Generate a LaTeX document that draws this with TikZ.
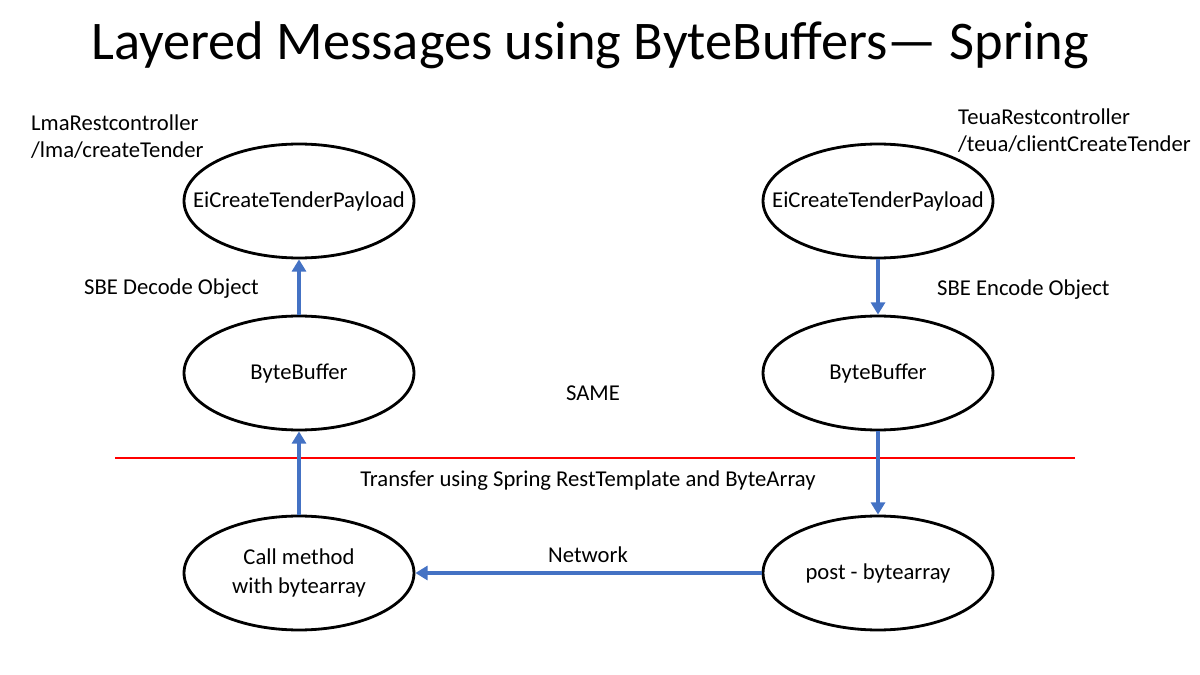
\documentclass[tikz,border=0pt]{standalone}
\usepackage{fontspec}
\setmainfont{Carlito}
\usepackage{xcolor}
\usetikzlibrary{shapes.geometric,arrows.meta}
\definecolor{flowblue}{HTML}{4472C4}

\begin{document}
\begin{tikzpicture}[x=0.02cm,y=-0.02cm,
    blob/.style={draw, ellipse, line width=1.6pt, minimum width=4.6cm, minimum height=2.28cm, inner xsep=-1cm, inner ysep=0pt, align=center, font=\fontsize{12.9}{16.5}\selectfont},
    flow/.style={draw=flowblue, line width=2pt, -{Triangle[length=7pt,width=8pt]}},
    lbl/.style={font=\fontsize{12.9}{15.3}\selectfont, align=left}]
    \useasboundingbox (0,0) rectangle (1200,675);

    % title
    \node (title) at (590,45) {\fontsize{31}{36}\selectfont Layered Messages using ByteBuffers— Spring};

    % left side: receiver
    \node[blob] (lmaPayload) at (299,201) {EiCreateTenderPayload};
    \node[blob] (lmaBuffer) at (299,373) {ByteBuffer};
    \node[blob] (lmaCall) at (299,573) {Call method\\with bytearray};

    % right side: sender
    \node[blob] (teuaPayload) at (878,201) {EiCreateTenderPayload};
    \node[blob] (teuaBuffer) at (878,373) {ByteBuffer};
    \node[blob] (teuaPost) at (878,573) {post - bytearray};

    \node[lbl, anchor=west] (lmaCtrl) at (25,137) {LmaRestcontroller\\/lma/createTender};
    \node[lbl, anchor=west] (teuaCtrl) at (952,131) {TeuaRestcontroller\\/teua/clientCreateTender};
    \node[lbl, anchor=west] (decode) at (78,289) {SBE Decode Object};
    \node[lbl, anchor=west] (encode) at (931,290) {SBE Encode Object};
    \node[lbl] (same) at (593,393) {SAME};
    \node[lbl] (transfer) at (588,481) {Transfer using Spring RestTemplate and ByteArray};
    \node[lbl] (network) at (588,555) {Network};

    % layer boundary
    \coordinate (cutL) at (115,458);
    \coordinate (cutR) at (1075,458);
    \draw[red, line width=0.6pt] (cutL) -- (cutR);

    \draw[flow] (teuaPayload.south) -- (teuaBuffer.north);
    \draw[flow] (teuaBuffer.south) -- (teuaPost.north);
    \draw[flow] (teuaPost.west) -- (lmaCall.east);
    \draw[flow] (lmaCall.north) -- (lmaBuffer.south);
    \draw[flow] (lmaBuffer.north) -- (lmaPayload.south);
\end{tikzpicture}
\end{document}
